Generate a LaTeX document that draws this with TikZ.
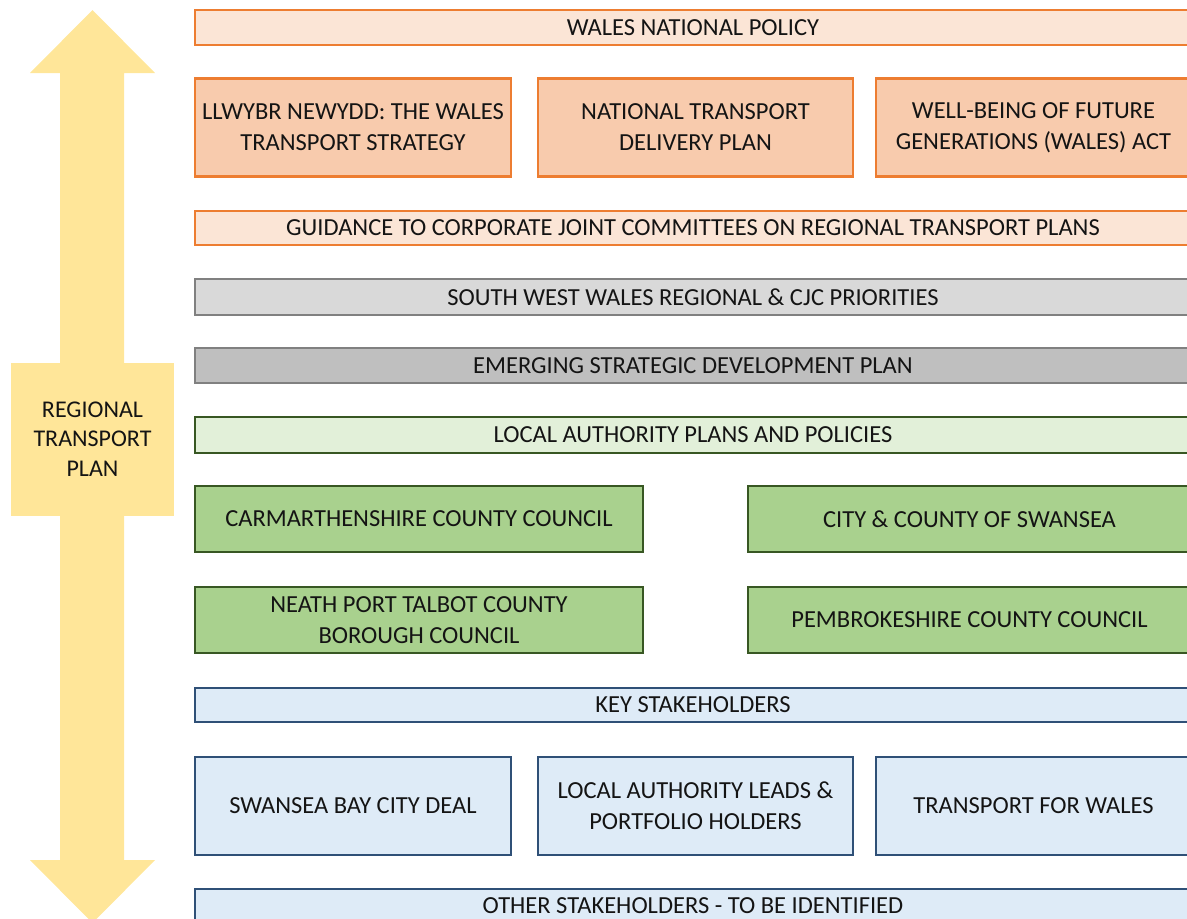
\documentclass[tikz,border=0pt]{standalone}
\usepackage{fontspec}
\setmainfont{Carlito}
\usetikzlibrary{positioning}
\definecolor{orangeline}{HTML}{ED7D31}
\definecolor{peachlight}{HTML}{FBE5D6}
\definecolor{peachmid}{HTML}{F8CBAD}
\definecolor{greyline}{HTML}{808080}
\definecolor{greylight}{HTML}{D9D9D9}
\definecolor{greymid}{HTML}{BFBFBF}
\definecolor{greenline}{HTML}{385723}
\definecolor{greenlight}{HTML}{E2F0D9}
\definecolor{greenmid}{HTML}{A9D18E}
\definecolor{blueline}{HTML}{2F5077}
\definecolor{bluelight}{HTML}{DEEBF7}
\definecolor{arrowyellow}{HTML}{FFE699}
\definecolor{textgrey}{HTML}{141414}
\tikzset{
  box/.style={draw, line width=2.6pt, align=center, inner sep=0pt, text=textgrey,
    font=\fontsize{24.5}{31}\selectfont},
  peachbar/.style={box, draw=orangeline, fill=peachlight},
  peachbox/.style={box, draw=orangeline, fill=peachmid},
  greybar/.style={box, draw=greyline, fill=greylight},
  greydark/.style={box, draw=greyline, fill=greymid},
  greenbar/.style={box, draw=greenline, fill=greenlight},
  greenbox/.style={box, draw=greenline, fill=greenmid},
  bluebar/.style={box, draw=blueline, fill=bluelight},
  wide/.style={minimum width=996pt},
  third/.style={minimum width=315pt, minimum height=98pt},
  half/.style={minimum width=446pt, minimum height=66pt}
}
\begin{document}
\begin{tikzpicture}[x=1pt, y=-1pt]
  \useasboundingbox (0,0) rectangle (1187,919);
  \clip (0,0) rectangle (1187,919);

  % double arrow on the left
  \fill[arrowyellow] (60,73) -- (30,73) -- (92.5,10) -- (155,73) -- (124,73)
    -- (124,860) -- (155,860) -- (92.5,923) -- (30,860) -- (60,860) -- cycle;
  \node[box, draw=none, fill=arrowyellow, minimum width=163pt, minimum height=153pt,
    font=\fontsize{24}{29.5}\selectfont] (rtp) at (92.5,439) {REGIONAL\\TRANSPORT\\PLAN};

  % national level
  \node[peachbar, wide, minimum height=35pt] (wnp) at (693,27.5) {WALES NATIONAL POLICY};
  \node[peachbox, third, minimum width=316pt] (llwybr) at (353,127.5) {LLWYBR NEWYDD: THE WALES\\TRANSPORT STRATEGY};
  \node[peachbox, third] (ntdp) at (695.5,127.5) {NATIONAL TRANSPORT\\DELIVERY PLAN};
  \node[peachbox, third] (wbfg) at (1033.5,127.5) {WELL-BEING OF FUTURE\\GENERATIONS (WALES) ACT};
  \node[peachbar, wide, minimum height=34pt] (guid) at (693,228) {GUIDANCE TO CORPORATE JOINT COMMITTEES ON REGIONAL TRANSPORT PLANS};

  % regional level
  \node[greybar, wide, minimum height=36pt] (swwr) at (693,297) {SOUTH WEST WALES REGIONAL \& CJC PRIORITIES};
  \node[greydark, wide, minimum height=35pt] (esdp) at (693,365.5) {EMERGING STRATEGIC DEVELOPMENT PLAN};

  % local authorities
  \node[greenbar, wide, minimum height=36pt] (lapp) at (693,435) {LOCAL AUTHORITY PLANS AND POLICIES};
  \node[greenbox, half, minimum width=448pt] (carm) at (419,519) {CARMARTHENSHIRE COUNTY COUNCIL};
  \node[greenbox, half, minimum width=443pt] (swan) at (969.5,519) {CITY \& COUNTY OF SWANSEA};
  \node[greenbox, half, minimum width=448pt] (npt) at (419,620) {NEATH PORT TALBOT COUNTY\\BOROUGH COUNCIL};
  \node[greenbox, half, minimum width=443pt] (pemb) at (969.5,620) {PEMBROKESHIRE COUNTY COUNCIL};

  % stakeholders
  \node[bluebar, wide, minimum height=34pt] (keys) at (693,705) {KEY STAKEHOLDERS};
  \node[bluebar, third, minimum width=316pt] (sbcd) at (353,806) {SWANSEA BAY CITY DEAL};
  \node[bluebar, third] (lalp) at (695.5,806) {LOCAL AUTHORITY LEADS \&\\PORTFOLIO HOLDERS};
  \node[bluebar, third] (tfw) at (1033.5,806) {TRANSPORT FOR WALES};
  \node[bluebar, wide, minimum height=34pt] (other) at (693,906) {OTHER STAKEHOLDERS - TO BE IDENTIFIED};
\end{tikzpicture}
\end{document}
